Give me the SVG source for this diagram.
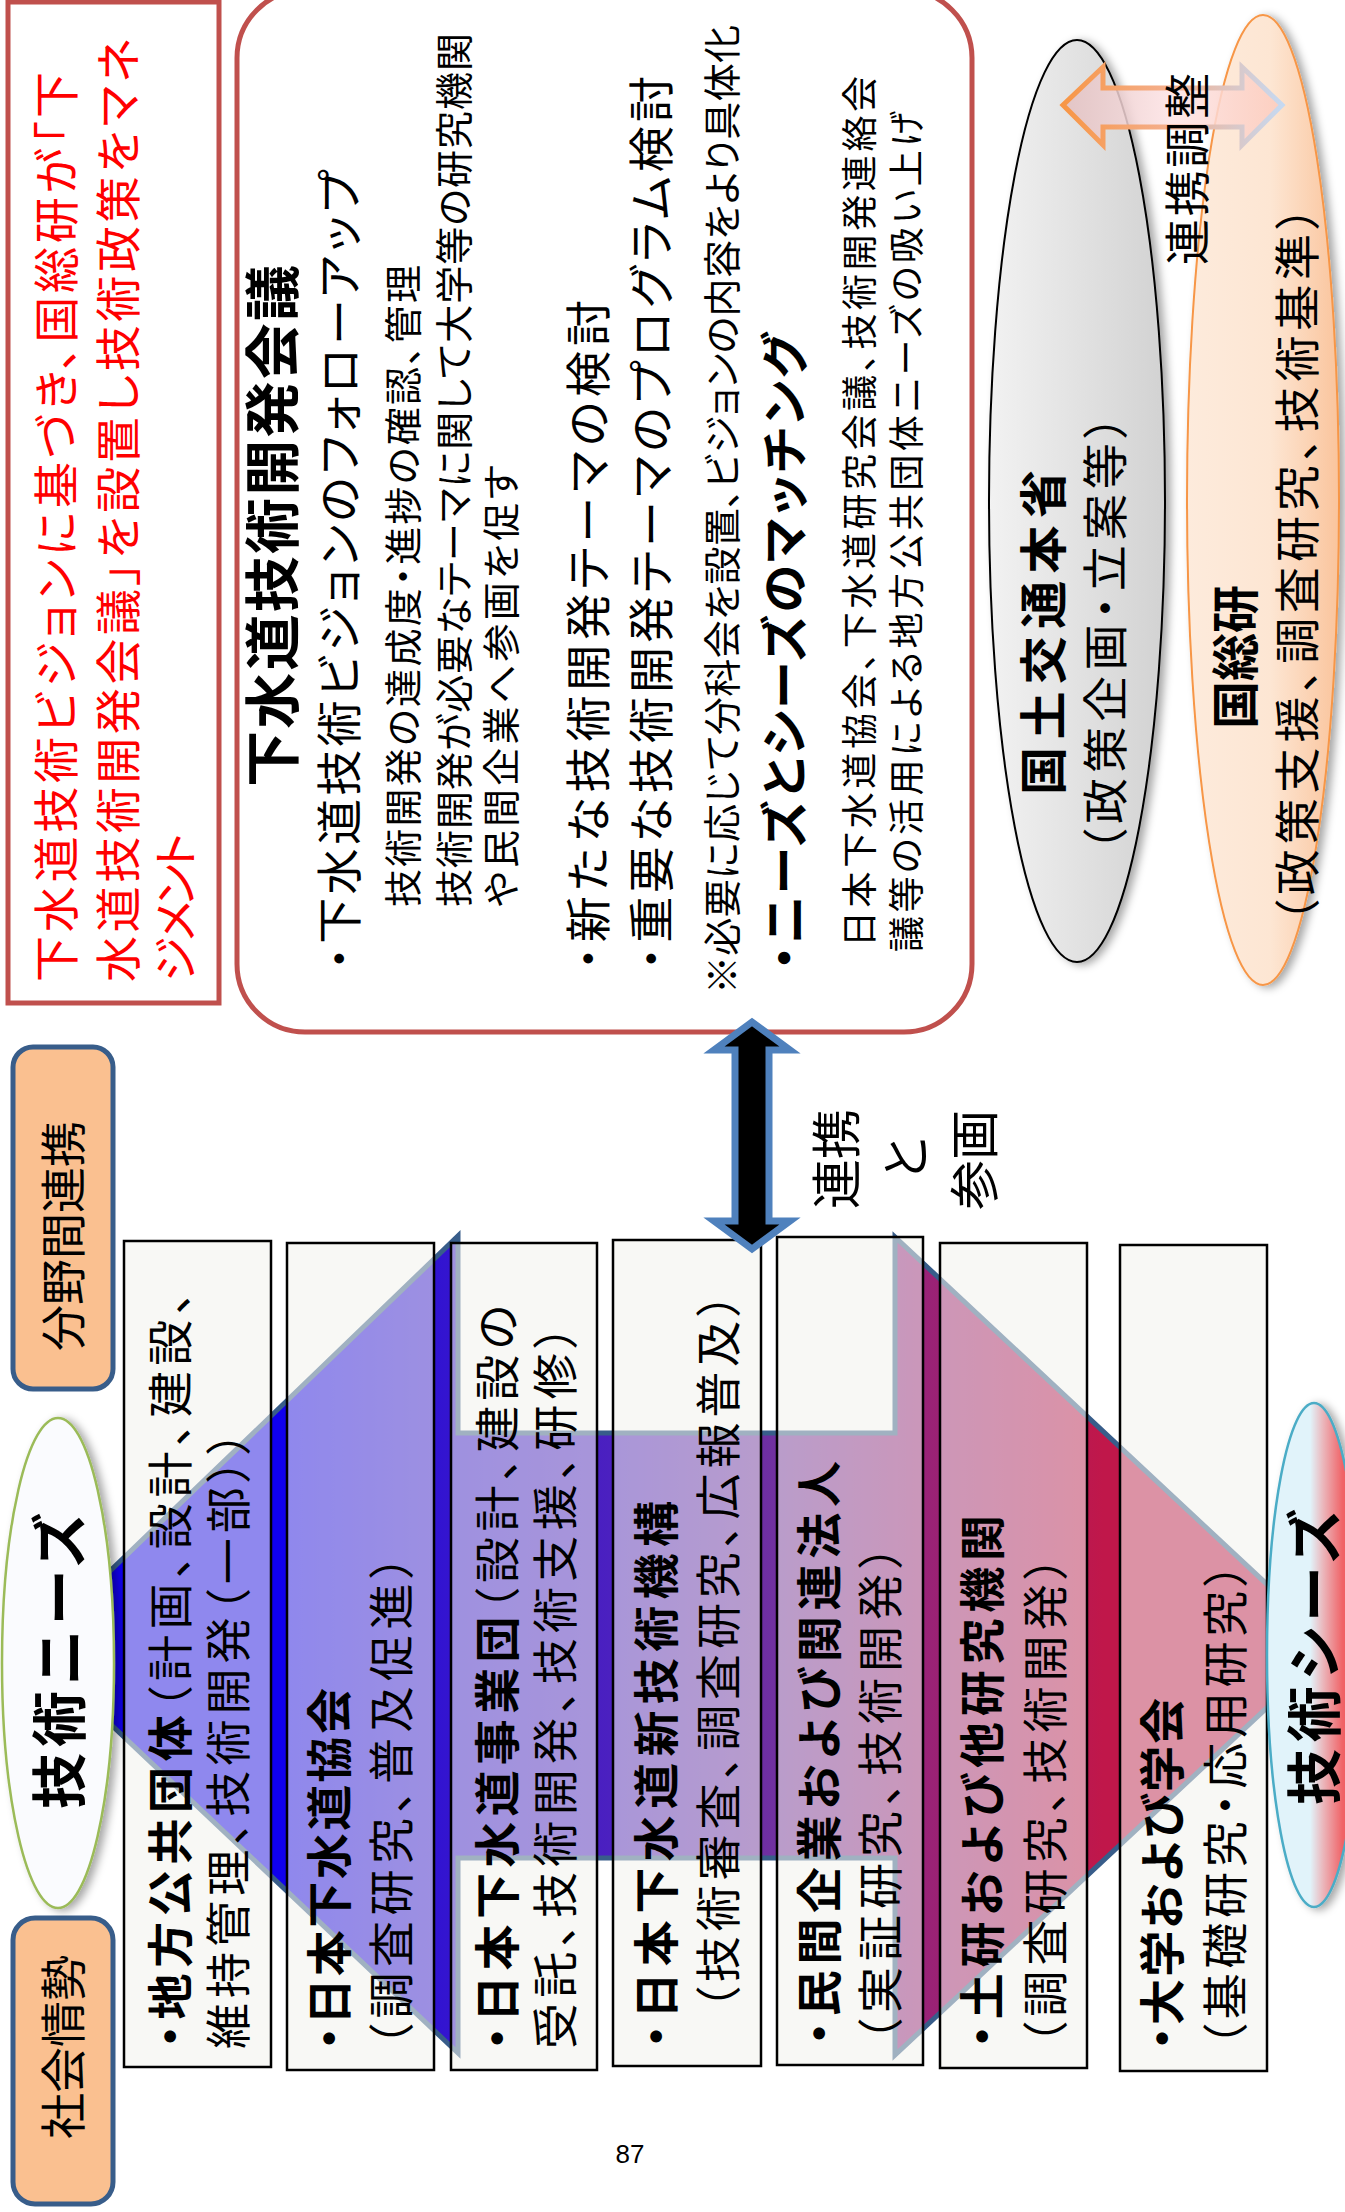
<svg xmlns="http://www.w3.org/2000/svg" width="1345" height="2212" viewBox="0 0 1345 2212">
<style>
text{font-family:"Noto Sans CJK JP","Noto Sans CJK SC",sans-serif;font-feature-settings:"palt" 1;fill:#000}
.b{font-weight:bold}
.red{fill:#FF0000}
.box{fill:#F3F2EE;fill-opacity:0.56;stroke:#000;stroke-width:2.5}
.tag{fill:#FAC090;stroke:#385D8A;stroke-width:5}
</style>
<defs>
<linearGradient id="gArrow" gradientUnits="userSpaceOnUse" x1="279" y1="0" x2="1103" y2="0">
<stop offset="0" stop-color="#1000EE"/>
<stop offset="0.2" stop-color="#3314D0"/>
<stop offset="0.4" stop-color="#4B20C0"/>
<stop offset="0.6" stop-color="#7030A0"/>
<stop offset="0.79" stop-color="#9A2276"/>
<stop offset="1" stop-color="#C0174A"/>
</linearGradient>
<linearGradient id="gGray" x1="0" y1="0" x2="1" y2="0">
<stop offset="0" stop-color="#F2F2F2"/>
<stop offset="1" stop-color="#D2D2D2"/>
</linearGradient>
<linearGradient id="gOrange" x1="0" y1="0" x2="1" y2="0">
<stop offset="0" stop-color="#FDEBDC"/>
<stop offset="0.55" stop-color="#FDE6D3"/>
<stop offset="1" stop-color="#FAC49C"/>
</linearGradient>
<linearGradient id="gSeeds" x1="0" y1="0" x2="1" y2="0">
<stop offset="0" stop-color="#E1F3FA"/>
<stop offset="0.46" stop-color="#E1F3FA"/>
<stop offset="0.6" stop-color="#EBB5BA"/>
<stop offset="0.8" stop-color="#F06468"/>
<stop offset="1" stop-color="#F04848"/>
</linearGradient>
<linearGradient id="gLinkStroke" x1="0" y1="0" x2="1" y2="0">
<stop offset="0" stop-color="#F79646"/>
<stop offset="0.5" stop-color="#F4B090"/>
<stop offset="1" stop-color="#C6D9F1"/>
</linearGradient>
<linearGradient id="gLinkFill" x1="0" y1="0" x2="1" y2="0">
<stop offset="0" stop-color="#E2BFC0"/>
<stop offset="0.5" stop-color="#FDE3E4"/>
<stop offset="1" stop-color="#FCCBBD"/>
</linearGradient>
<filter id="sh" x="-30%" y="-10%" width="160%" height="120%">
<feDropShadow dx="5" dy="2" stdDeviation="4" flood-color="#000" flood-opacity="0.35"/>
</filter>
</defs>

<g id="note">
<rect x="8" y="2" width="211" height="1001" fill="#FFFFFF" stroke="#C0504D" stroke-width="5"/>
<text class="red" font-size="46" transform="translate(73,982) rotate(-90)" textLength="910" lengthAdjust="spacing">下水道技術ビジョンに基づき、国総研が「下</text>
<text class="red" font-size="46" transform="translate(135,982) rotate(-90)" textLength="944" lengthAdjust="spacing">水道技術開発会議」を設置し技術政策をマネ</text>
<text class="red" font-size="46" transform="translate(192,982) rotate(-90)" textLength="149" lengthAdjust="spacing">ジメント</text>
</g>

<g id="council">
<rect x="237" y="-10" width="735" height="1042" rx="68" fill="#FFFFFF" stroke="#C0504D" stroke-width="5"/>
<text class="b" font-size="56" transform="translate(293,787) rotate(-90)" textLength="522" lengthAdjust="spacing">下水道技術開発会議</text>
<text font-size="46" transform="translate(356,970) rotate(-90)" textLength="800" lengthAdjust="spacing">・下水道技術ビジョンのフォローアップ</text>
<text font-size="38" transform="translate(417,907) rotate(-90)" textLength="642" lengthAdjust="spacing">技術開発の達成度・進捗の確認、管理</text>
<text font-size="38" transform="translate(468,907) rotate(-90)" textLength="874" lengthAdjust="spacing">技術開発が必要なテーマに関して大学等の研究機関</text>
<text font-size="38" transform="translate(515,907) rotate(-90)" textLength="442" lengthAdjust="spacing">や民間企業へ参画を促す</text>
<text font-size="46" transform="translate(605,970) rotate(-90)" textLength="670" lengthAdjust="spacing">・新たな技術開発テーマの検討</text>
<text font-size="46" transform="translate(668,970) rotate(-90)" textLength="894" lengthAdjust="spacing">・重要な技術開発テーマのプログラム検討</text>
<text font-size="38" transform="translate(736,994) rotate(-90)" textLength="969" lengthAdjust="spacing">※必要に応じて分科会を設置、ビジョンの内容をより具体化</text>
<text class="b" font-size="48" transform="translate(802,970) rotate(-90)" textLength="637" lengthAdjust="spacing">・ニーズとシーズのマッチング</text>
<text font-size="36" transform="translate(873,947) rotate(-90)" textLength="871" lengthAdjust="spacing">日本下水道協会、下水道研究会議、技術開発連絡会</text>
<text font-size="36" transform="translate(920,952) rotate(-90)" textLength="841" lengthAdjust="spacing">議等の活用による地方公共団体ニーズの吸い上げ</text>
</g>

<g id="mlit">
<ellipse cx="1077" cy="501" rx="88" ry="461" fill="url(#gGray)" stroke="#000" stroke-width="2" filter="url(#sh)"/>
<text class="b" font-size="48" transform="translate(1061,795) rotate(-90)" textLength="325" lengthAdjust="spacing">国土交通本省</text>
<text font-size="46" transform="translate(1122,852) rotate(-90)" textLength="437" lengthAdjust="spacing">（政策企画・立案等）</text>
</g>

<g id="nilim">
<ellipse cx="1263" cy="500" rx="76" ry="485" fill="url(#gOrange)" stroke="#F79646" stroke-width="2" filter="url(#sh)"/>
<text class="b" font-size="48" transform="translate(1253,729) rotate(-90)" textLength="144" lengthAdjust="spacing">国総研</text>
<text font-size="46" transform="translate(1314,923) rotate(-90)" textLength="717" lengthAdjust="spacing">（政策支援、調査研究、技術基準）</text>
</g>

<g id="tag-field">
<rect class="tag" x="13" y="1047" width="100" height="342" rx="20"/>
<text font-size="46" text-anchor="middle" transform="translate(80,1236) rotate(-90)">分野間連携</text>
</g>
<g id="tag-social">
<rect class="tag" x="13" y="1918" width="100" height="286" rx="22"/>
<text font-size="46" text-anchor="middle" transform="translate(80,2047) rotate(-90)">社会情勢</text>
</g>

<g id="connectors">
<polygon id="needs-seeds-arrow" points="30,1648 458,1236 458,1433 895,1433 895,1237 1333,1646 895,2055 895,1858 458,1858 458,2053" fill="url(#gArrow)" stroke="#385D8A" stroke-width="5" stroke-linejoin="miter"/>
<path id="link-arrow" d="M1063,105 L1103,67 L1103,88 L1242,88 L1242,67 L1282,105 L1242,145 L1242,127 L1103,127 L1103,145 Z" fill="url(#gLinkFill)" fill-opacity="0.85" stroke="url(#gLinkStroke)" stroke-width="5"/>
</g>

<g id="orgs">
<rect class="box" x="124" y="1241" width="147" height="826"/>
<rect class="box" x="287" y="1243" width="147" height="827"/>
<rect class="box" x="451" y="1243" width="146" height="827"/>
<rect class="box" x="613" y="1240" width="148" height="826"/>
<rect class="box" x="777" y="1237" width="146" height="828"/>
<rect class="box" x="940" y="1243" width="147" height="825"/>
<rect class="box" x="1120" y="1245" width="147" height="826"/>
</g>

<g id="needs">
<ellipse cx="58" cy="1663" rx="56" ry="245" fill="#FAFBFE" stroke="#9BBB59" stroke-width="2.5" filter="url(#sh)"/>
<text class="b" font-size="56" text-anchor="middle" transform="translate(80,1661) rotate(-90)" textLength="296" lengthAdjust="spacing">技術ニーズ</text>
</g>
<g id="seeds">
<ellipse cx="1314" cy="1655" rx="47" ry="252" fill="url(#gSeeds)" stroke="#4BACC6" stroke-width="2.5" filter="url(#sh)"/>
<text class="b" font-size="56" text-anchor="middle" transform="translate(1335,1657) rotate(-90)" textLength="296" lengthAdjust="spacing">技術シーズ</text>
</g>

<g id="link-labels">
<text font-size="46" transform="translate(1204,265) rotate(-90)" textLength="192" lengthAdjust="spacing">連携調整</text>
</g>

<g id="participation">
<path d="M752,1022 L790,1050 L769,1050 L769,1221 L790,1221 L752,1249 L714,1221 L735,1221 L735,1050 L714,1050 Z" fill="#000" stroke="#4F81BD" stroke-width="7" stroke-linejoin="miter"/>
<text font-size="50" text-anchor="middle" transform="translate(855,1159) rotate(-90)">連携</text>
<text font-size="50" text-anchor="middle" transform="translate(924,1159) rotate(-90)">と</text>
<text font-size="50" text-anchor="middle" transform="translate(993,1160) rotate(-90)">参画</text>
</g>

<g id="org-texts">
<text font-size="46" transform="translate(187,2048) rotate(-90)" textLength="757" lengthAdjust="spacing"><tspan class="b">・地方公共団体</tspan>（計画、設計、建設、</text>
<text font-size="46" transform="translate(245,2049) rotate(-90)" textLength="618" lengthAdjust="spacing">維持管理、技術開発（一部））</text>
<text class="b" font-size="46" transform="translate(346,2050) rotate(-90)" textLength="362" lengthAdjust="spacing">・日本下水道協会</text>
<text font-size="46" transform="translate(408,2047) rotate(-90)" textLength="492" lengthAdjust="spacing">（調査研究、普及促進）</text>
<text font-size="46" transform="translate(514,2050) rotate(-90)" textLength="745" lengthAdjust="spacing"><tspan class="b">・日本下水道事業団</tspan>（設計、建設の</text>
<text font-size="46" transform="translate(572,2049) rotate(-90)" textLength="724" lengthAdjust="spacing">受託、技術開発、技術支援、研修）</text>
<text class="b" font-size="46" transform="translate(673,2048) rotate(-90)" textLength="547" lengthAdjust="spacing">・日本下水道新技術機構</text>
<text font-size="46" transform="translate(735,2010) rotate(-90)" textLength="717" lengthAdjust="spacing">（技術審査、調査研究、広報普及）</text>
<text class="b" font-size="46" transform="translate(836,2045) rotate(-90)" textLength="584" lengthAdjust="spacing">・民間企業および関連法人</text>
<text font-size="46" transform="translate(897,2042) rotate(-90)" textLength="497" lengthAdjust="spacing">（実証研究、技術開発）</text>
<text class="b" font-size="46" transform="translate(999,2048) rotate(-90)" textLength="533" lengthAdjust="spacing">・土研および他研究機関</text>
<text font-size="46" transform="translate(1062,2045) rotate(-90)" textLength="489" lengthAdjust="spacing">（調査研究、技術開発）</text>
<text class="b" font-size="46" transform="translate(1179,2050) rotate(-90)" textLength="352" lengthAdjust="spacing">・大学および学会</text>
<text font-size="46" transform="translate(1242,2047) rotate(-90)" textLength="484" lengthAdjust="spacing">（基礎研究・応用研究）</text>
</g>

<text x="630" y="2163" font-size="26" text-anchor="middle" style="font-family:'Liberation Sans Narrow','Liberation Sans',sans-serif;font-feature-settings:normal">87</text>
</svg>
